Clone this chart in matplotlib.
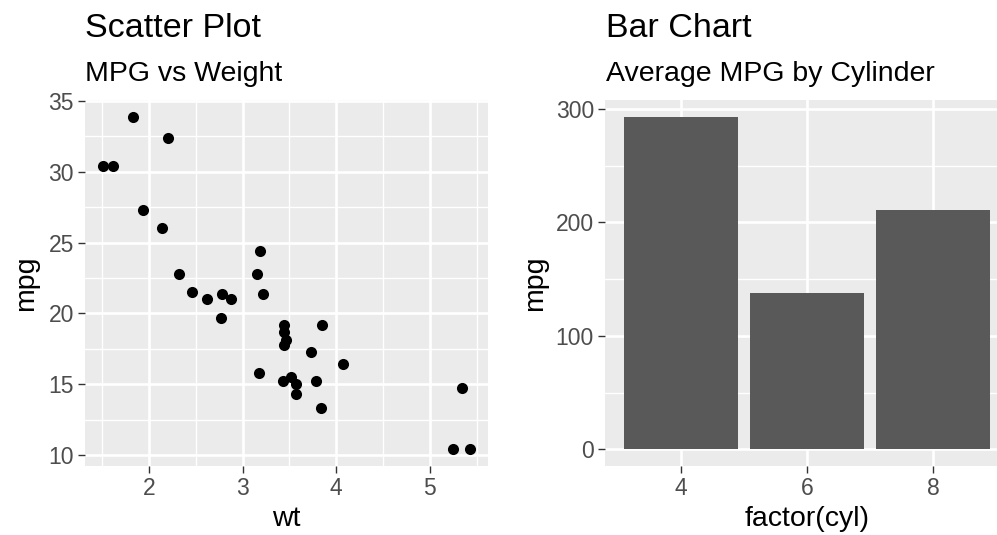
"""Recreate the mtcars scatter / bar chart pair in a ggplot-like look."""

import matplotlib

matplotlib.use("Agg")

import matplotlib.pyplot as plt
from matplotlib.ticker import MultipleLocator

# mtcars: weight (1000 lbs) and miles per gallon
WT = [2.620, 2.875, 2.320, 3.215, 3.440, 3.460, 3.570, 3.190, 3.150, 3.440, 3.440,
      4.070, 3.730, 3.780, 5.250, 5.424, 5.345, 2.200, 1.615, 1.835, 2.465, 3.520,
      3.435, 3.840, 3.845, 1.935, 2.140, 1.513, 3.170, 2.770, 3.570, 2.780]
MPG = [21.0, 21.0, 22.8, 21.4, 18.7, 18.1, 14.3, 24.4, 22.8, 19.2, 17.8,
       16.4, 17.3, 15.2, 10.4, 10.4, 14.7, 32.4, 30.4, 33.9, 21.5, 15.5,
       15.2, 13.3, 19.2, 27.3, 26.0, 30.4, 15.8, 19.7, 15.0, 21.4]

CYL_LABELS = ["4", "6", "8"]
CYL_MPG_SUM = [293.3, 138.2, 211.4]

FIG_W, FIG_H = 997, 535
PANEL_BG = "#EBEBEB"
TICK_TEXT = "#4D4D4D"
TICK_LINE = "#333333"
FONT = "Liberation Sans"

TITLE_SIZE = 24.5
SUB_SIZE = 20.5
LABEL_SIZE = 20.5
TICK_SIZE = 16.5


def _px_axes(fig, left, top, right, bottom):
    """Add axes from pixel edges measured from the top-left corner."""
    return fig.add_axes([
        left / FIG_W,
        1 - bottom / FIG_H,
        (right - left) / FIG_W,
        (bottom - top) / FIG_H,
    ])


def _style(ax):
    ax.set_facecolor(PANEL_BG)
    for spine in ax.spines.values():
        spine.set_visible(False)
    ax.grid(which="major", color="white", linewidth=1.9)
    ax.grid(which="minor", color="white", linewidth=1.0)
    ax.set_axisbelow(True)
    ax.tick_params(which="major", length=5, width=1.0, color=TICK_LINE,
                   labelcolor=TICK_TEXT, labelsize=TICK_SIZE, pad=3)
    ax.tick_params(which="minor", length=0)
    for lab in ax.get_xticklabels() + ax.get_yticklabels():
        lab.set_fontfamily(FONT)


def _titles(fig, x_px, title, subtitle):
    fig.text(x_px / FIG_W, 1 - 37 / FIG_H, title, fontsize=TITLE_SIZE,
             family=FONT, va="baseline", ha="left")
    fig.text(x_px / FIG_W, 1 - 81 / FIG_H, subtitle, fontsize=SUB_SIZE,
             family=FONT, va="baseline", ha="left")


def main() -> None:
    fig = plt.figure(figsize=(FIG_W / 100, FIG_H / 100), dpi=100)

    # left: scatter
    ax1 = _px_axes(fig, 85, 100, 488, 466)
    ax1.scatter(WT, MPG, s=64, color="black", linewidths=0, zorder=3)
    span_x = max(WT) - min(WT)
    span_y = max(MPG) - min(MPG)
    ax1.set_xlim(min(WT) - 0.05 * span_x, max(WT) + 0.05 * span_x)
    ax1.set_ylim(min(MPG) - 0.05 * span_y, max(MPG) + 0.05 * span_y)
    ax1.xaxis.set_major_locator(MultipleLocator(1))
    ax1.xaxis.set_minor_locator(MultipleLocator(0.5))
    ax1.yaxis.set_major_locator(MultipleLocator(5))
    ax1.yaxis.set_minor_locator(MultipleLocator(2.5))
    _style(ax1)
    ax1.set_xlabel("wt", fontsize=LABEL_SIZE, family=FONT)
    ax1.set_ylabel("mpg", fontsize=LABEL_SIZE, family=FONT)
    ax1.xaxis.set_label_coords(0.5, -0.11)
    ax1.yaxis.set_label_coords(-0.114, 0.5)
    _titles(fig, 85, "Scatter Plot", "MPG vs Weight")

    # right: bar chart (panel runs past the right edge, as in the source)
    ax2 = _px_axes(fig, 605, 100, 1009, 466)
    pos = list(range(len(CYL_LABELS)))
    ax2.bar(pos, CYL_MPG_SUM, width=0.9, color="#595959", zorder=3)
    ax2.set_xlim(-0.6, len(CYL_LABELS) - 0.4)
    top = max(CYL_MPG_SUM)
    ax2.set_ylim(-0.05 * top, top * 1.05)
    ax2.set_xticks(pos)
    ax2.set_xticklabels(CYL_LABELS)
    ax2.yaxis.set_major_locator(MultipleLocator(100))
    ax2.yaxis.set_minor_locator(MultipleLocator(50))
    _style(ax2)
    ax2.set_xlabel("factor(cyl)", fontsize=LABEL_SIZE, family=FONT)
    ax2.set_ylabel("mpg", fontsize=LABEL_SIZE, family=FONT)
    ax2.xaxis.set_label_coords(0.5, -0.11)
    ax2.yaxis.set_label_coords(-0.141, 0.5)
    _titles(fig, 606, "Bar Chart", "Average MPG by Cylinder")

    fig.savefig("out.png", dpi=100)
    plt.close(fig)


if __name__ == "__main__":
    main()
